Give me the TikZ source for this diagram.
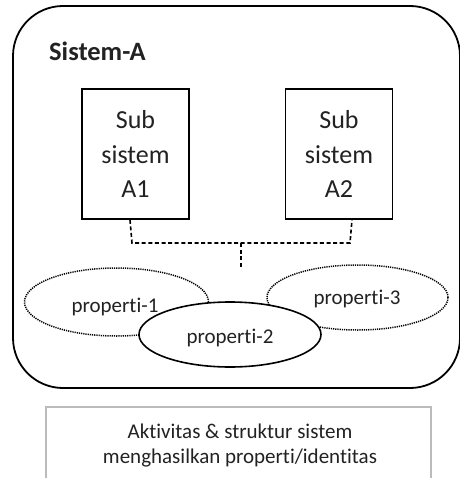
\documentclass[tikz,border=0pt]{standalone}
\usepackage{fontspec}
\setmainfont{Carlito}[Ligatures=CommonOff]
\usetikzlibrary{shapes.geometric}
\definecolor{txt}{HTML}{222222}
\definecolor{framegray}{HTML}{BBBBBB}
\begin{document}
\begin{tikzpicture}[x=1pt,y=-1pt,
  subbox/.style={draw,line width=1.6pt,minimum width=107pt,minimum height=130pt,
    align=center,font=\fontsize{26}{34.5}\selectfont,text=txt},
  propdot/.style={ellipse,draw,line width=1.5pt,dash pattern=on 1.2pt off 1pt,
    minimum width=#1},
  proplabel/.style={font=\fontsize{21}{24}\selectfont,text=txt},
  link/.style={line width=1.6pt,dash pattern=on 4pt off 2.6pt}]
\useasboundingbox (0,0) rectangle (459,478);
\fill[white] (0,0) rectangle (459,478);

% outer system frame
\draw[line width=1.8pt,rounded corners=50pt] (13,6) rectangle (460,388);
\node[anchor=base west,font=\bfseries\fontsize{26.5}{30}\selectfont,text=txt,inner sep=0pt]
  (title) at (49,61) {Sistem-A};

% subsystems
\node[subbox] (a1) at (135.5,154) {Sub\\sistem\\A1};
\node[subbox] (a2) at (339,154) {Sub\\sistem\\A2};

% properties
\node[propdot=184pt,minimum height=68pt] (p1) at (116.5,302) {};
\node[propdot=181pt,minimum height=65pt] (p3) at (357.5,297.5) {};
\node[ellipse,draw,fill=white,line width=1.6pt,minimum width=182pt,minimum height=65pt]
  (p2) at (230,334.5) {};
\node[proplabel] (l1) at (115,307) {properti-1};
\node[proplabel] (l3) at (357,299) {properti-3};
\node[proplabel] (l2) at (230,338) {properti-2};

% joint contribution of the subsystems
\coordinate (j) at (241,243);
\coordinate (jend) at (241,268);
\draw[link] (a1.south -| 130,0) -- (132,243) -- (350,243) -- (a2.south -| 352,0);
\draw[link] (j) -- (jend);

% caption
\draw[framegray,line width=1.2pt] (46,407) rectangle (431,490);
\node[align=center,font=\fontsize{21}{25}\selectfont,text=txt] (cap) at (240,446)
  {Aktivitas \& struktur sistem\\menghasilkan properti/identitas};
\end{tikzpicture}
\end{document}
